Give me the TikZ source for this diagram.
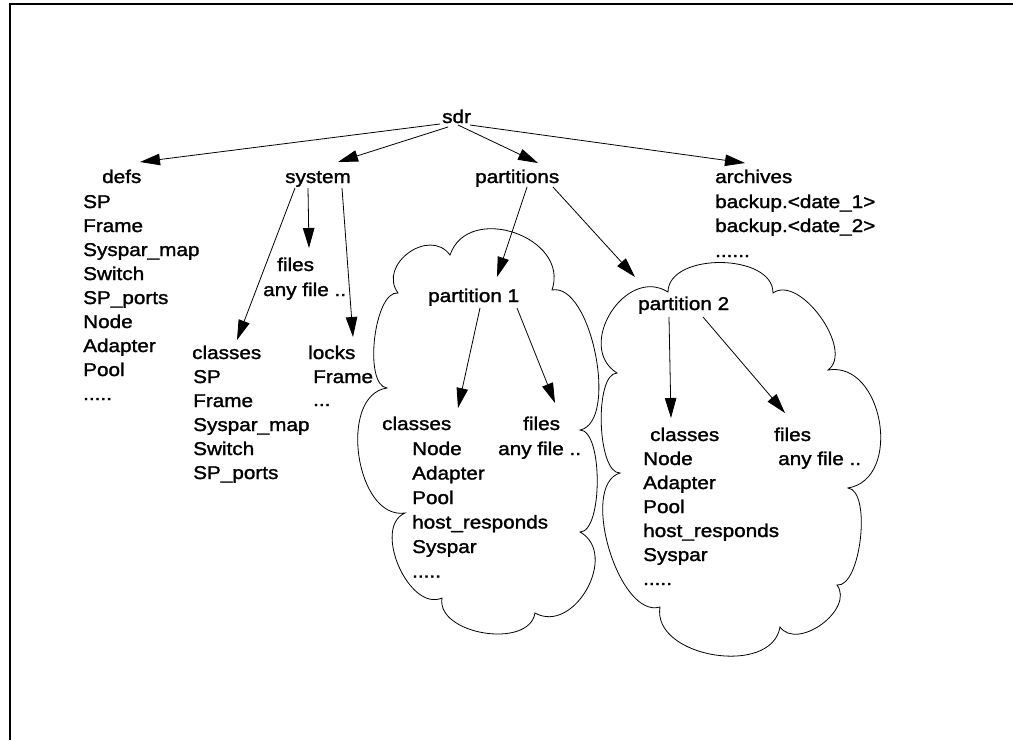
\documentclass[tikz,border=0pt]{standalone}
\usepackage{fontspec}
\setmainfont{Liberation Sans}[FakeStretch=1.12,FakeBold=1.5]
\usetikzlibrary{arrows.meta,calc}
\begin{document}
\begin{tikzpicture}[x=1pt,y=-1pt,
  txt/.style={inner sep=0pt, anchor=base west, font=\fontsize{18.5}{24}\selectfont},
  link/.style={line width=0.8pt, -{Triangle[length=20pt,width=11.5pt]}},
  cloudline/.style={line width=0.8pt},
  bump/.style n args={3}{insert path={.. controls ($(#1)!#3!90:(#2)$) and ($(#2)!#3!-90:(#1)$) .. (#2)}},
]
\useasboundingbox (0,0) rectangle (1013,740);
% outer frame (top and left edges)
\draw[line width=1.6pt] (10,740) -- (10,4) -- (1013,4);

% root and first level
\node[txt] (sdr) at (442,123) {sdr};
\node[txt] (defs) at (102,183) {defs};
\node[txt] (system) at (285,183) {system};
\node[txt] (partitions) at (475,183) {partitions};
\node[txt] (archives) at (715,183) {archives};

% contents of defs
\foreach \t [count=\i] in {SP,Frame,Syspar\_map,Switch,SP\_ports,Node,Adapter,Pool}
  \node[txt] (def\i) at (83,{184+24*\i}) {\t};
\node[txt] (def9) at (83,400) {.....};

% contents of archives
\node[txt] (arch1) at (715,208) {backup.<date\_1>};
\node[txt] (arch2) at (715,232) {backup.<date\_2>};
\node[txt] (arch3) at (715,257) {......};

% children of system
\node[txt] (sfiles) at (277,271) {files};
\node[txt] (sany) at (263,296) {any file ..};
\node[txt] (sclasses) at (192,359) {classes};
\foreach \t [count=\i] in {SP,Frame,Syspar\_map,Switch,SP\_ports}
  \node[txt] (scl\i) at (193,{359+24*\i}) {\t};
\node[txt] (locks) at (308,359) {locks};
\node[txt] (lockframe) at (313,383) {Frame};
\node[txt] (lockdots) at (313,406) {...};

% partition 1
\node[txt] (p1) at (428,302) {partition 1};
\node[txt] (p1classes) at (382,430) {classes};
\node[txt] (p1files) at (523,430) {files};
\node[txt] (p1any) at (498,455) {any file ..};
\foreach \t [count=\i] in {Node,Adapter,Pool,host\_responds,Syspar}
  \node[txt] (p1c\i) at (412,{430.5+24.5*\i}) {\t};
\node[txt] (p1c6) at (412,577.5) {.....};

% partition 2
\node[txt] (p2) at (638,310) {partition 2};
\node[txt] (p2classes) at (650,441) {classes};
\node[txt] (p2files) at (774,441) {files};
\node[txt] (p2any) at (778,465) {any file ..};
\foreach \t [count=\i] in {Node,Adapter,Pool,host\_responds,Syspar}
  \node[txt] (p2c\i) at (643,{441+24*\i}) {\t};
\node[txt] (p2c6) at (643,585) {.....};

% arrows
\draw[link] ([shift={(-2,1)}]sdr.base west) -- ([shift={(38,-21)}]defs.base west);
\draw[link] ([shift={(6,4)}]sdr.base west) -- ([shift={(53,-21)}]system.base west);
\draw[link] ([shift={(16,2)}]sdr.base west) -- ([shift={(63,-20)}]partitions.base west);
\draw[link] ([shift={(28,2)}]sdr.base west) -- ([shift={(30,-20)}]archives.base west);
\draw[link] ([shift={(23,5)}]system.base west) -- ([shift={(32,-23)}]sfiles.base west);
\draw[link] ([shift={(10,5)}]system.base west) -- ([shift={(45,-19)}]sclasses.base west);
\draw[link] ([shift={(57,5)}]system.base west) -- ([shift={(45,-22)}]locks.base west);
\draw[link] ([shift={(52,4)}]partitions.base west) -- ([shift={(69,-25)}]p1.base west);
\draw[link] ([shift={(78,4)}]partitions.base west) -- ([shift={(-3,-33)}]p2.base west);
\draw[link] ([shift={(52,6)}]p1.base west) -- ([shift={(76,-22)}]p1classes.base west);
\draw[link] ([shift={(89,6)}]p1.base west) -- ([shift={(32,-27)}]p1files.base west);
\draw[link] ([shift={(31,7)}]p2.base west) -- ([shift={(21,-23)}]p2classes.base west);
\draw[link] ([shift={(65,7)}]p2.base west) -- ([shift={(11,-28)}]p2files.base west);

% cloud around partition 1
\coordinate (a1) at (398,293); \coordinate (a2) at (450,255);
\coordinate (a3) at (552,290); \coordinate (a4) at (580,430);
\coordinate (a5) at (580,532); \coordinate (a6) at (535,613);
\coordinate (a7) at (442,598); \coordinate (a8) at (405,513);
\coordinate (a9) at (387,388);
\draw[cloudline] (a1) [bump={a1}{a2}{35pt}] [bump={a2}{a3}{56pt}]
  [bump={a3}{a4}{40pt}] [bump={a4}{a5}{23pt}] [bump={a5}{a6}{45pt}]
  [bump={a6}{a7}{37pt}] [bump={a7}{a8}{36pt}] [bump={a8}{a9}{50pt}]
  [bump={a9}{a1}{24pt}] -- cycle;

% cloud around partition 2
\coordinate (b1) at (617,373); \coordinate (b2) at (668,292);
\coordinate (b3) at (773,293); \coordinate (b4) at (828,370);
\coordinate (b5) at (848,488); \coordinate (b6) at (837,585);
\coordinate (b7) at (780,627); \coordinate (b8) at (660,607);
\coordinate (b9) at (620,473);
\draw[cloudline] (b1) [bump={b1}{b2}{50pt}] [bump={b2}{b3}{40pt}]
  [bump={b3}{b4}{33pt}] [bump={b4}{b5}{56pt}] [bump={b5}{b6}{24pt}]
  [bump={b6}{b7}{30pt}] [bump={b7}{b8}{51pt}] [bump={b8}{b9}{43pt}]
  [bump={b9}{b1}{23pt}] -- cycle;
\end{tikzpicture}
\end{document}
